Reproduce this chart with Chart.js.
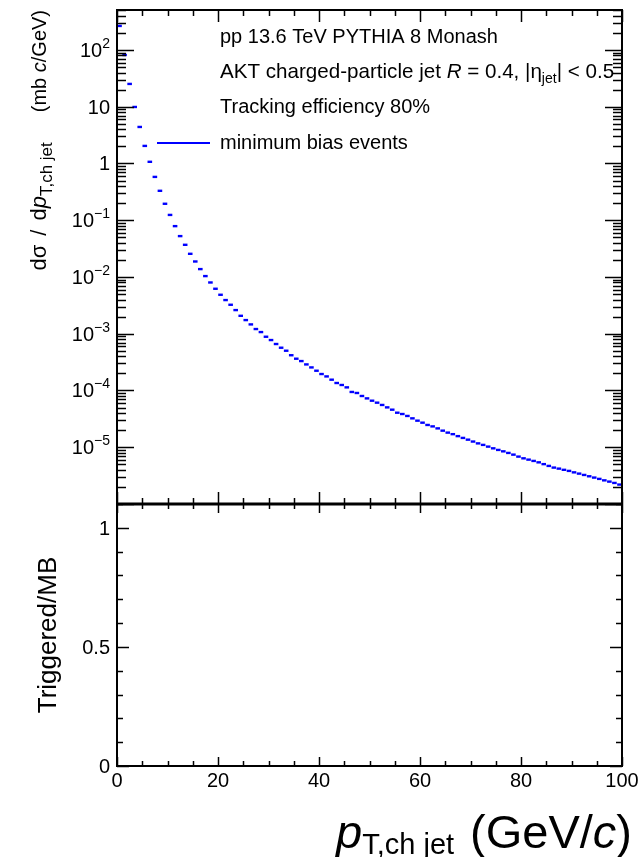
<!DOCTYPE html>
<html><head><meta charset="utf-8">
<script src="https://cdn.jsdelivr.net/npm/chart.js@4.4.1/dist/chart.umd.min.js"></script>
<style>
html,body{margin:0;padding:0;background:#fff;}
#wrap{position:relative;width:643px;height:857px;overflow:hidden;}
canvas{position:absolute;left:0;top:0;}
</style></head><body>
<div id="wrap"><canvas id="top" width="643" height="857"></canvas><canvas id="bot" width="643" height="857"></canvas></div>
<script>
// ---- data ----
const ptBinCenters = [0.5,1.5,2.5,3.5,4.5,5.5,6.5,7.5,8.5,9.5,10.5,11.5,12.5,13.5,14.5,15.5,16.5,17.5,18.5,19.5,
20.5,21.5,22.5,23.5,24.5,25.5,26.5,27.5,28.5,29.5,30.5,31.5,32.5,33.5,34.5,35.5,36.5,37.5,38.5,39.5,
40.5,41.5,42.5,43.5,44.5,45.5,46.5,47.5,48.5,49.5,50.5,51.5,52.5,53.5,54.5,55.5,56.5,57.5,58.5,59.5,
60.5,61.5,62.5,63.5,64.5,65.5,66.5,67.5,68.5,69.5,70.5,71.5,72.5,73.5,74.5,75.5,76.5,77.5,78.5,79.5,
80.5,81.5,82.5,83.5,84.5,85.5,86.5,87.5,88.5,89.5,90.5,91.5,92.5,93.5,94.5,95.5,96.5,97.5,98.5,99.5];
const mbCrossSection = [265,81.6,25.2,9.9,4.4,2.04,1.07,0.58,0.33,0.195,
0.124,0.0787,0.0525,0.0369,0.0256,0.01875,0.01377,0.01037,0.0080,0.0062,
0.00486,0.00392,0.00324,0.00261,0.00207,0.00174,0.00146,0.00121,0.00107,0.000885,
0.000774,0.000659,0.000567,0.000502,0.000418,0.000363,0.000330,0.000288,0.000255,0.000223,
0.000195,0.000177,0.000155,0.0001355,0.000125,0.0001135,9.42e-5,9.04e-5,8.0e-5,7.26e-5,
6.61e-5,6.1e-5,5.56e-5,5.04e-5,4.59e-5,4.06e-5,3.85e-5,3.56e-5,3.23e-5,2.94e-5,
2.71e-5,2.47e-5,2.33e-5,2.15e-5,1.96e-5,1.81e-5,1.70e-5,1.57e-5,1.46e-5,1.36e-5,
1.26e-5,1.17e-5,1.10e-5,1.026e-5,9.57e-6,8.97e-6,8.47e-6,7.94e-6,7.41e-6,6.84e-6,
6.38e-6,6.05e-6,5.74e-6,5.42e-6,5.04e-6,4.69e-6,4.38e-6,4.20e-6,4.00e-6,3.83e-6,
3.61e-6,3.43e-6,3.25e-6,3.08e-6,2.92e-6,2.77e-6,2.61e-6,2.48e-6,2.35e-6,2.20e-6];
const ratioValues = [];
const xTickValues = [0,20,40,60,80,100];
const xTickLabels = ['0','20','40','60','80','100'];
const yTopTickValues = [1e-5,1e-4,1e-3,1e-2,1e-1,1,10,100];
const yTopTickLabels = [['10','\u22125'],['10','\u22124'],['10','\u22123'],['10','\u22122'],['10','\u22121'],['1',''],['10',''],['10','2']];
const yBotTickValues = [0,0.5,1];
const yBotTickLabels = ['0','0.5','1'];
const legendLines = ['pp 13.6 TeV PYTHIA 8 Monash','AKT charged-particle jet','Tracking efficiency 80%','minimum bias events'];

// ---- helpers ----
const FAM = '"Liberation Sans", Arial, Helvetica, sans-serif';
function fnt(p){ return (p.i?'italic ':'') + (p.s||20) + 'px ' + FAM; }
function richW(ctx, parts){ let w=0; for(const p of parts){ ctx.font=fnt(p); w+=ctx.measureText(p.t).width + (p.gap||0);} return w; }
function drawRich(ctx, parts, x, y, align){
  const w = richW(ctx, parts);
  let cx = align==='right' ? x-w : (align==='center' ? x-w/2 : x);
  ctx.textAlign='left'; ctx.textBaseline='alphabetic';
  for(const p of parts){ ctx.font=fnt(p); ctx.fillText(p.t, cx, y+(p.dy||0)); cx += ctx.measureText(p.t).width + (p.gap||0); }
}
function line(ctx,x1,y1,x2,y2){ ctx.beginPath(); ctx.moveTo(x1,y1); ctx.lineTo(x2,y2); ctx.stroke(); }

const topDecor = {
  id:'topDecor',
  afterDraw(chart){
    const ctx=chart.ctx, a=chart.chartArea, xs=chart.scales.x, ys=chart.scales.y;
    ctx.save();
    ctx.strokeStyle='#000'; ctx.fillStyle='#000';
    ctx.lineWidth=1.5;
    for(let v=0; v<=100; v+=5){
      const px=Math.round(xs.getPixelForValue(v))+0.5, len=(v%20===0)?12:6;
      line(ctx,px,a.top,px,a.top+len); line(ctx,px,a.bottom,px,a.bottom-len);
    }
    for(let k=-6;k<=2;k++){ for(let m=1;m<=9;m++){ const v=m*Math.pow(10,k); if(v<ys.min||v>ys.max) continue;
      const py=Math.round(ys.getPixelForValue(v))+0.5, len=(m===1)?17:9;
      line(ctx,a.left,py,a.left+len,py); line(ctx,a.right,py,a.right-len,py);
    }}
    ctx.lineWidth=2;
    ctx.strokeRect(a.left,a.top,a.right-a.left,a.bottom-a.top);
    yTopTickValues.forEach((v,i)=>{
      const py=ys.getPixelForValue(v); const lb=yTopTickLabels[i];
      const parts=[{t:lb[0],s:20}]; if(lb[1]) parts.push({t:lb[1],s:14,dy:-9});
      drawRich(ctx,parts,a.left-7,py+7,'right');
    });
    // y title
    ctx.save(); ctx.translate(46,10); ctx.rotate(-Math.PI/2);
    drawRich(ctx,[{t:'d\u03c3',s:22,gap:9},{t:'/',s:22,gap:9},{t:'d',s:22},{t:'p',i:true,s:22},{t:'T,ch jet',s:17,dy:6,gap:30},{t:'(mb '},{t:'c',i:true},{t:'/GeV)'}],0,0,'right');
    ctx.restore();
    // legend
    const lx=220;
    drawRich(ctx,[{t:legendLines[0]}],lx,43,'left');
    drawRich(ctx,[{t:legendLines[1]+' ',s:20.6},{t:'R',i:true,s:20.6},{t:' = 0.4, |\u03b7',s:20.6},{t:'jet',s:14,dy:5},{t:'| < 0.5',s:20.6}],lx,78,'left');
    drawRich(ctx,[{t:legendLines[2]}],lx,113,'left');
    drawRich(ctx,[{t:chart.data.datasets[0].label}],lx,149,'left');
    ctx.strokeStyle='#0000ff'; ctx.lineWidth=2;
    line(ctx,157,143,210,143);
    ctx.restore();
  }
};

const botDecor = {
  id:'botDecor',
  afterDraw(chart){
    const ctx=chart.ctx, a=chart.chartArea, xs=chart.scales.x, ys=chart.scales.y;
    ctx.save();
    ctx.strokeStyle='#000'; ctx.fillStyle='#000';
    ctx.lineWidth=1.5;
    for(let v=0; v<=100; v+=5){
      const px=Math.round(xs.getPixelForValue(v))+0.5, len=(v%20===0)?9:5;
      line(ctx,px,a.top,px,a.top+len); line(ctx,px,a.bottom,px,a.bottom-len);
    }
    for(let j=0;j<=11;j++){ const v=j/10; const py=Math.round(ys.getPixelForValue(v))+0.5, len=(j%5===0)?12:6;
      line(ctx,a.left,py,a.left+len,py); line(ctx,a.right,py,a.right-len,py);
    }
    ctx.lineWidth=2;
    ctx.strokeRect(a.left,a.top,a.right-a.left,a.bottom-a.top);
    ctx.lineWidth=3;
    line(ctx,a.left,a.top,a.right,a.top);
    yBotTickValues.forEach((v,i)=>{
      const py=ys.getPixelForValue(v);
      drawRich(ctx,[{t:yBotTickLabels[i]}],a.left-7,py+7,'right');
    });
    xTickValues.forEach((v,i)=>{
      const px=xs.getPixelForValue(v);
      drawRich(ctx,[{t:xTickLabels[i]}],px,787,'center');
    });
    ctx.save(); ctx.translate(56,(a.top+a.bottom)/2); ctx.rotate(-Math.PI/2);
    drawRich(ctx,[{t:'Triggered/MB',s:26}],0,0,'center');
    ctx.restore();
    drawRich(ctx,[{t:'p',i:true,s:47},{t:'T,ch jet',s:29,dy:6,gap:16},{t:'(GeV/',s:47},{t:'c',i:true,s:47},{t:')',s:47}],632,848,'right');
    ctx.restore();
  }
};

new Chart(document.getElementById('top'), {
  type:'scatter',
  data:{ datasets:[{ label:'minimum bias events',
    data: ptBinCenters.map((x,i)=>({x:x, y:mbCrossSection[i]})),
    pointStyle:'line', pointRadius:2.3, pointHoverRadius:2.3, borderColor:'#0000ff', backgroundColor:'#0000ff', borderWidth:2.4, showLine:false }]},
  options:{ responsive:false, animation:false, devicePixelRatio:1,
    layout:{ padding:{ left:117, right:21, top:10, bottom:353 } },
    scales:{ x:{ type:'linear', min:0, max:100, display:false },
             y:{ type:'logarithmic', min:1e-6, max:506, display:false } },
    plugins:{ legend:{display:false}, tooltip:{enabled:false} } },
  plugins:[topDecor]
});

new Chart(document.getElementById('bot'), {
  type:'scatter',
  data:{ datasets:[{ label:'Triggered/MB', data: ratioValues, pointRadius:0, borderColor:'#0000ff' }]},
  options:{ responsive:false, animation:false, devicePixelRatio:1,
    layout:{ padding:{ left:117, right:21, top:504, bottom:91 } },
    scales:{ x:{ type:'linear', min:0, max:100, display:false },
             y:{ type:'linear', min:0, max:1.1, display:false } },
    plugins:{ legend:{display:false}, tooltip:{enabled:false} } },
  plugins:[botDecor]
});
</script>
</body></html>
